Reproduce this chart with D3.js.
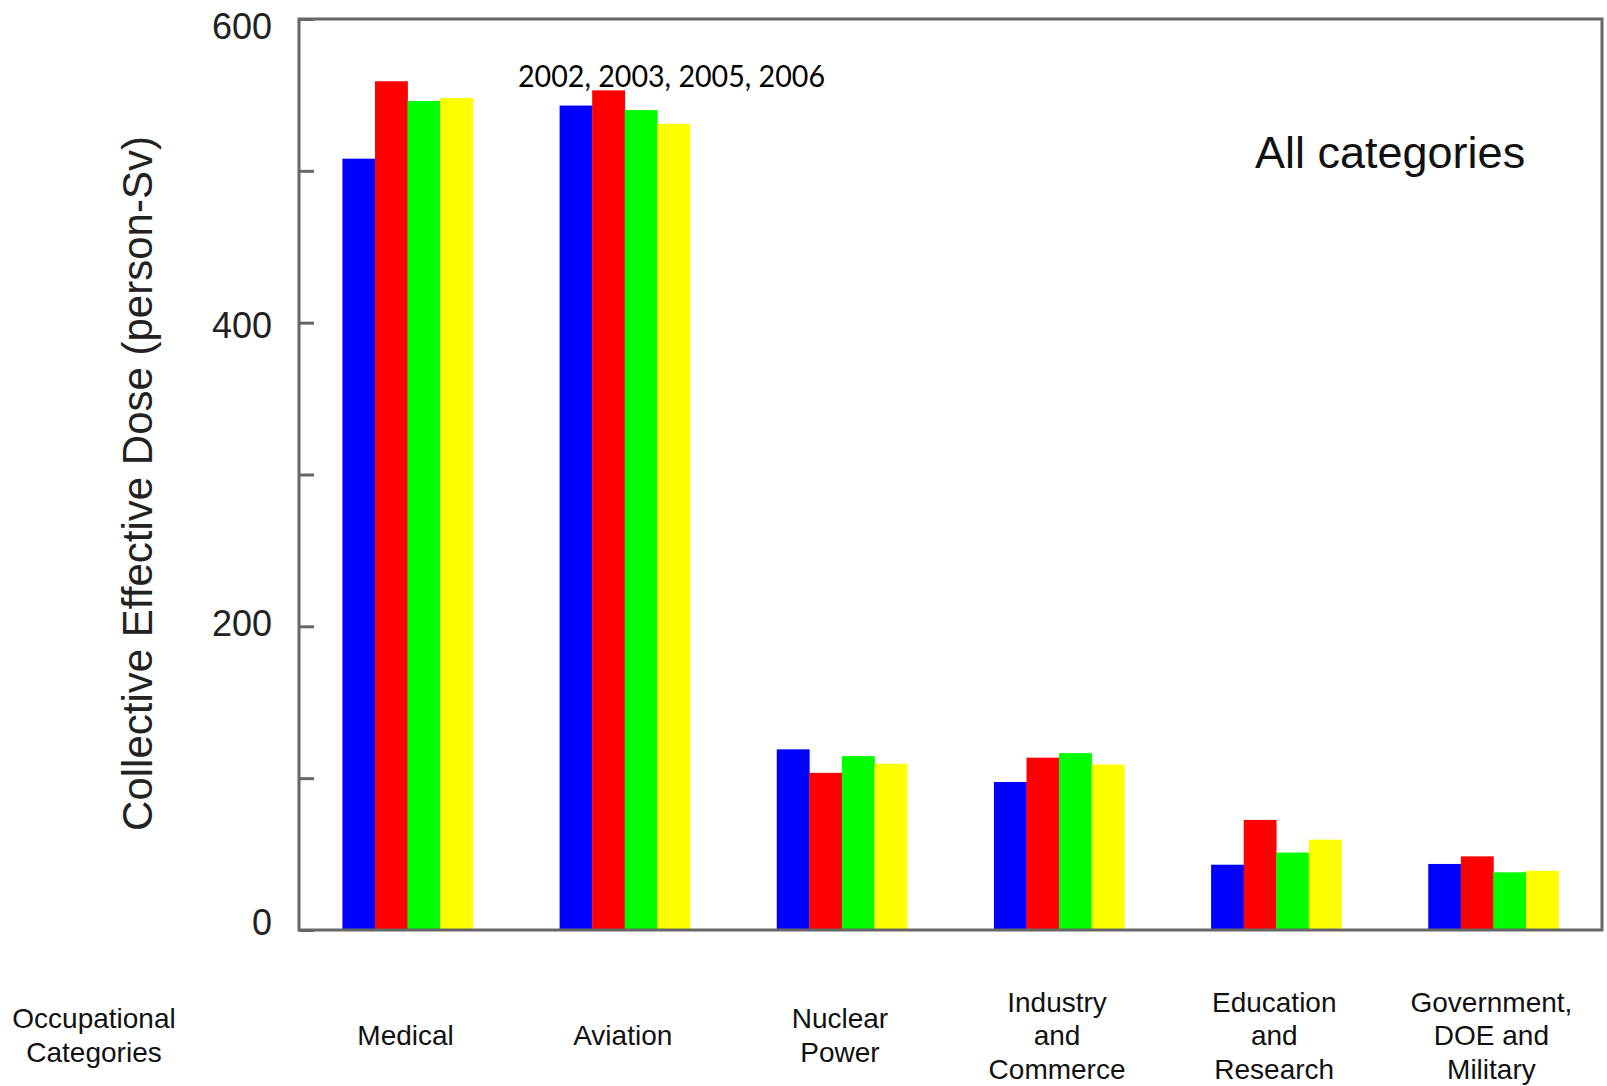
<!DOCTYPE html>
<html>
<head>
<meta charset="utf-8">
<script src="https://cdn.jsdelivr.net/npm/d3@7"></script>
<style>
  html, body { margin: 0; padding: 0; background: #fff; }
  svg { display: block; }
  text { font-family: "Liberation Sans", Arial, sans-serif; fill: #111; }
</style>
</head>
<body>
<svg id="chart" width="1607" height="1086"></svg>
<script>
// ---- data ----
const categories = ["Medical", "Aviation", "Nuclear Power", "Industry and Commerce", "Education and Research", "Government, DOE and Military"];
const categoryLines = [["Medical"], ["Aviation"], ["Nuclear", "Power"], ["Industry", "and", "Commerce"], ["Education", "and", "Research"], ["Government,", "DOE and", "Military"]];
const years = ["2002", "2003", "2005", "2006"];
const values2002 = [508, 543, 119, 97.5, 43, 43.5];
const values2003 = [559, 553, 103.5, 113.5, 72.5, 48.5];
const values2005 = [546, 540, 114.5, 116.5, 51, 38];
const values2006 = [548, 531, 109.5, 109, 59.5, 39];
const seriesColors = ["#0000ff", "#ff0000", "#00ff00", "#ffff00"];
const yTicks = [0, 100, 200, 300, 400, 500, 600];
const yTickLabels = [0, 200, 400, 600];
const yTitle = "Collective Effective Dose (person-Sv)";
const xTitleLines = ["Occupational", "Categories"];
const panelLabel = "All categories";
const yearsNote = "2002, 2003, 2005, 2006";

const seriesValues = [values2002, values2003, values2005, values2006];

// ---- layout ----
const plotL = 299, plotR = 1602, plotT = 19, plotB = 930;
const svg = d3.select("#chart");

const x0 = d3.scaleBand().domain(categories).range([plotL, plotR]).paddingInner(0.4).paddingOuter(0.2);
const x1 = d3.scaleBand().domain(years).range([0, x0.bandwidth()]).padding(0);
const y = d3.scaleLinear().domain([0, 600]).range([plotB, plotT]);
const yLabelPos = d3.scaleLinear().domain([0, 600]).range([922, 26.5]);
const color = d3.scaleOrdinal().domain(years).range(seriesColors);

const rows = categories.map((c, i) => ({ cat: c, vals: years.map((yr, j) => ({ year: yr, v: seriesValues[j][i] })) }));

// bars
const g = svg.append("g");
g.selectAll("g.grp").data(rows).join("g")
  .attr("class", "grp")
  .attr("transform", d => `translate(${x0(d.cat)},0)`)
  .selectAll("rect").data(d => d.vals).join("rect")
  .attr("x", d => x1(d.year))
  .attr("width", x1.bandwidth() + 0.3)
  .attr("y", d => y(d.v))
  .attr("height", d => y(0) - y(d.v))
  .attr("fill", d => color(d.year));

// frame
svg.append("rect")
  .attr("x", plotL).attr("y", plotT)
  .attr("width", plotR - plotL).attr("height", plotB - plotT)
  .attr("fill", "none").attr("stroke", "#666").attr("stroke-width", 3);

// y axis ticks (inward)
const axis = d3.axisLeft(y).tickValues(yTicks).tickSizeInner(-15).tickSizeOuter(0).tickFormat("");
const ax = svg.append("g").attr("transform", `translate(${plotL},0)`).call(axis);
ax.select(".domain").remove();
ax.selectAll("line").attr("stroke", "#666").attr("stroke-width", 3);

// y tick labels
svg.append("g").selectAll("text").data(yTickLabels).join("text")
  .attr("x", 272)
  .attr("y", d => yLabelPos(d))
  .attr("dy", "0.36em")
  .attr("text-anchor", "end")
  .style("font-size", "36px")
  .style("fill", "#222")
  .text(d => d);

// y title
svg.append("text")
  .attr("transform", `translate(152,483.5) rotate(-90)`)
  .attr("text-anchor", "middle")
  .style("font-size", "42px")
  .style("fill", "#222")
  .text(yTitle);

// category labels
const lineH = 33.5, midBase = 1045;
const labG = svg.append("g");
rows.forEach((d, i) => {
  const lines = categoryLines[i];
  const t = labG.append("text")
    .attr("text-anchor", "middle")
    .style("font-size", "28px")
    .style("fill", "#111");
  lines.forEach((ln, k) => {
    t.append("tspan")
      .attr("x", x0(d.cat) + x0.bandwidth() / 2 - 2)
      .attr("y", midBase + (k - (lines.length - 1) / 2) * lineH)
      .text(ln);
  });
});

// x title
const xt = svg.append("text").attr("text-anchor", "middle").style("font-size", "28px").style("fill", "#111");
xTitleLines.forEach((ln, k) => {
  xt.append("tspan").attr("x", 94).attr("y", midBase + (k - (xTitleLines.length - 1) / 2) * lineH).text(ln);
});

// panel label
svg.append("text")
  .attr("x", 1255).attr("y", 168)
  .style("font-size", "45px")
  .style("fill", "#111")
  .text(panelLabel);

// years note
svg.append("text")
  .attr("x", 518).attr("y", 87)
  .style("font-family", "Lato, 'Open Sans', sans-serif")
  .style("font-size", "30px")
  .style("fill", "#000")
  .attr("textLength", 307)
  .attr("lengthAdjust", "spacingAndGlyphs")
  .text(yearsNote);
</script>
</body>
</html>
